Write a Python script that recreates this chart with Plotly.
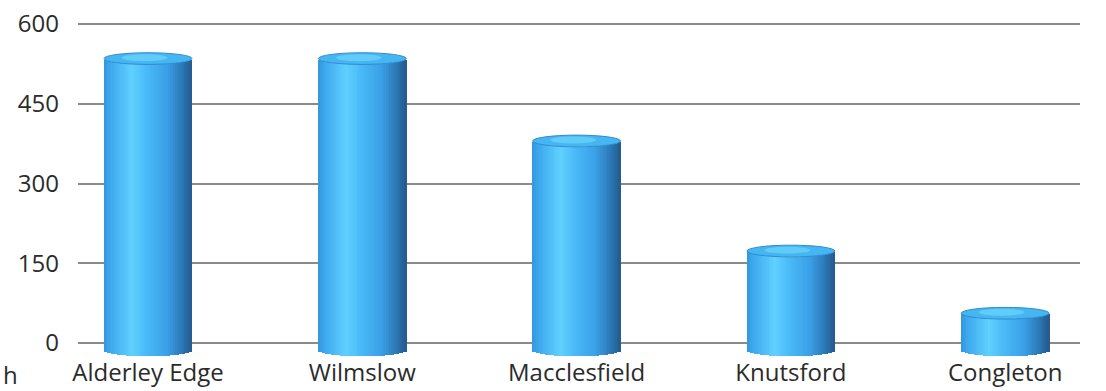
import numpy as np
import plotly.graph_objects as go

# Data
towns = ["Alderley Edge", "Wilmslow", "Macclesfield", "Knutsford", "Congleton"]
values = [535, 535, 380, 173, 56]
y_ticks = [0, 150, 300, 450, 600]

# Cylinder geometry (data units)
BAR_W = 0.41          # bar width in category units
CAP_H = 11            # half-height of the elliptical caps
FLOOR = 14            # bottom ellipse sits slightly below zero
N_STRIPES = 48

# Horizontal shading across the cylinder body
stops = [(0.0, (52, 150, 222)), (0.08, (62, 170, 238)), (0.32, (96, 208, 255)),
         (0.5, (72, 184, 246)), (0.72, (58, 160, 232)), (0.88, (44, 122, 184)),
         (1.0, (36, 90, 140))]


def shade(t):
    for (a, ca), (b, cb) in zip(stops[:-1], stops[1:]):
        if a <= t <= b:
            f = (t - a) / (b - a)
            c = [round(ca[i] + (cb[i] - ca[i]) * f) for i in range(3)]
            return f"rgb({c[0]},{c[1]},{c[2]})"
    return "rgb(36,90,140)"


xs = list(range(len(towns)))
heights = [v + FLOOR for v in values]
fig = go.Figure()

step = BAR_W / N_STRIPES
for k in range(N_STRIPES):
    t = (k + 0.5) / N_STRIPES
    u = 2 * t - 1
    s = np.sqrt(max(0.0, 1 - u * u))
    fig.add_trace(go.Bar(
        x=xs, y=heights, base=-FLOOR - CAP_H * s,
        width=step * 1.35, offset=-BAR_W / 2 + k * step - step * 0.15,
        marker=dict(color=shade(t), line=dict(width=0)),
        cliponaxis=False, hoverinfo="skip", showlegend=False,
    ))

# Top caps of the cylinders, centred on each value
shapes = []
for x, v in zip(xs, values):
    shapes.append(dict(type="circle", xref="x", yref="y",
                       x0=x - BAR_W / 2, x1=x + BAR_W / 2,
                       y0=v - CAP_H, y1=v + CAP_H,
                       fillcolor="rgb(70,182,242)",
                       line=dict(color="rgb(48,140,205)", width=1), layer="above"))
    shapes.append(dict(type="circle", xref="x", yref="y",
                       x0=x - BAR_W * 0.3, x1=x + BAR_W * 0.22,
                       y0=v - CAP_H * 0.45, y1=v + CAP_H * 0.75,
                       fillcolor="rgba(120,220,255,0.55)",
                       line=dict(width=0), layer="above"))

px_per_unit = 319 / 600
BOTTOM = 35
fig.update_layout(
    width=1106, height=391,
    margin=dict(l=78, r=26, t=10, b=BOTTOM),
    paper_bgcolor="white", plot_bgcolor="white",
    barmode="overlay", bargap=0,
    shapes=shapes,
    font=dict(family="Open Sans, Noto Sans, sans-serif", size=24, color="#2b2b2b"),
    xaxis=dict(
        tickmode="array", tickvals=xs, ticktext=towns,
        range=[(78 - 148) / 214.3, (1080 - 148) / 214.3],
        showgrid=False, zeroline=False, showline=False, ticks="",
        tickfont=dict(size=24, color="#2b2b2b"), ticklabelstandoff=0,
        automargin=False,
    ),
    yaxis=dict(
        tickmode="array", tickvals=y_ticks,
        range=[-(391 - BOTTOM - 343) / px_per_unit, 600 + 14 / px_per_unit],
        showgrid=True, gridcolor="#8a8a8a", gridwidth=1.5,
        zeroline=False, showline=False, ticks="",
        tickfont=dict(size=24, color="#2b2b2b"), ticklabelstandoff=18,
        automargin=False,
    ),
    annotations=[dict(text="h", xref="paper", yref="paper",
                      x=(1 - 78) / 1002, y=-(374 - 356) / 346, xanchor="left",
                      yanchor="middle", showarrow=False,
                      font=dict(size=24, color="#2b2b2b"))],
)

fig.write_html("out.html")
